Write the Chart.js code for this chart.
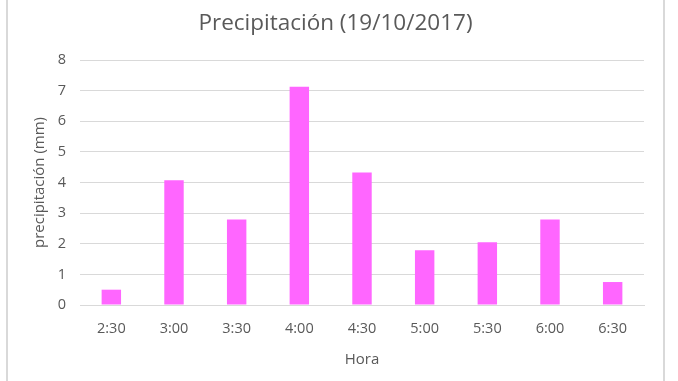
<!DOCTYPE html>
<html><head><meta charset="utf-8">
<script src="https://cdn.jsdelivr.net/npm/chart.js@4"></script>
<style>
html,body{margin:0;padding:0;background:#fff;width:678px;height:381px;overflow:hidden}
#box{position:absolute;left:6px;top:-2px;width:655px;height:385px;border-left:2px solid #d9d9d9;border-right:2px solid #d9d9d9;border-bottom:2px solid #d9d9d9}
#wrap{position:absolute;left:0;top:2px;width:655px;height:381px}
</style></head><body>
<div id="box"><div id="wrap"><canvas id="c"></canvas></div></div>
<script>
const categories = ["2:30","3:00","3:30","4:00","4:30","5:00","5:30","6:00","6:30"];
const precipitacion = [0.5, 4.07, 2.79, 7.13, 4.33, 1.79, 2.05, 2.79, 0.75];
const titleText = "Precipitación (19/10/2017)";
const xTitle = "Hora";
const yTitle = "precipitación (mm)";
const grey = "#595959";
const font = "'Open Sans', 'Noto Sans', sans-serif";
new Chart(document.getElementById('c'), {
  type: 'bar',
  data: { labels: categories, datasets: [{ data: precipitacion, backgroundColor: '#FF66FF', categoryPercentage: 1, barPercentage: 0.31 }] },
  options: {
    responsive: true, maintainAspectRatio: false, animation: false,
    layout: { padding: { left: 19, right: 19, top: 6, bottom: 8 } },
    plugins: {
      legend: { display: false }, tooltip: { enabled: false },
      title: { display: true, text: titleText, color: grey, font: { family: font, size: 22.5, weight: 'normal', lineHeight: 1.2 }, padding: { top: 4, bottom: 23 } }
    },
    scales: {
      x: {
        grid: { display: false }, border: { color: '#d9d9d9' },
        afterFit: (s) => { s.height = 68; },
        ticks: { color: grey, font: { family: font, size: 14.5 }, padding: 7 },
        title: { display: true, text: xTitle, color: grey, font: { family: font, size: 15 }, padding: { top: 2 } }
      },
      y: {
        min: 0, max: 8,
        afterFit: (s) => { s.width = 53; },
        grid: { color: '#d9d9d9', drawTicks: false }, border: { display: false },
        ticks: { stepSize: 1, color: grey, font: { family: font, size: 14.5 }, padding: 14 },
        title: { display: true, text: yTitle, color: grey, font: { family: font, size: 15 }, padding: { bottom: 0 } }
      }
    }
  }
});
</script></body></html>
